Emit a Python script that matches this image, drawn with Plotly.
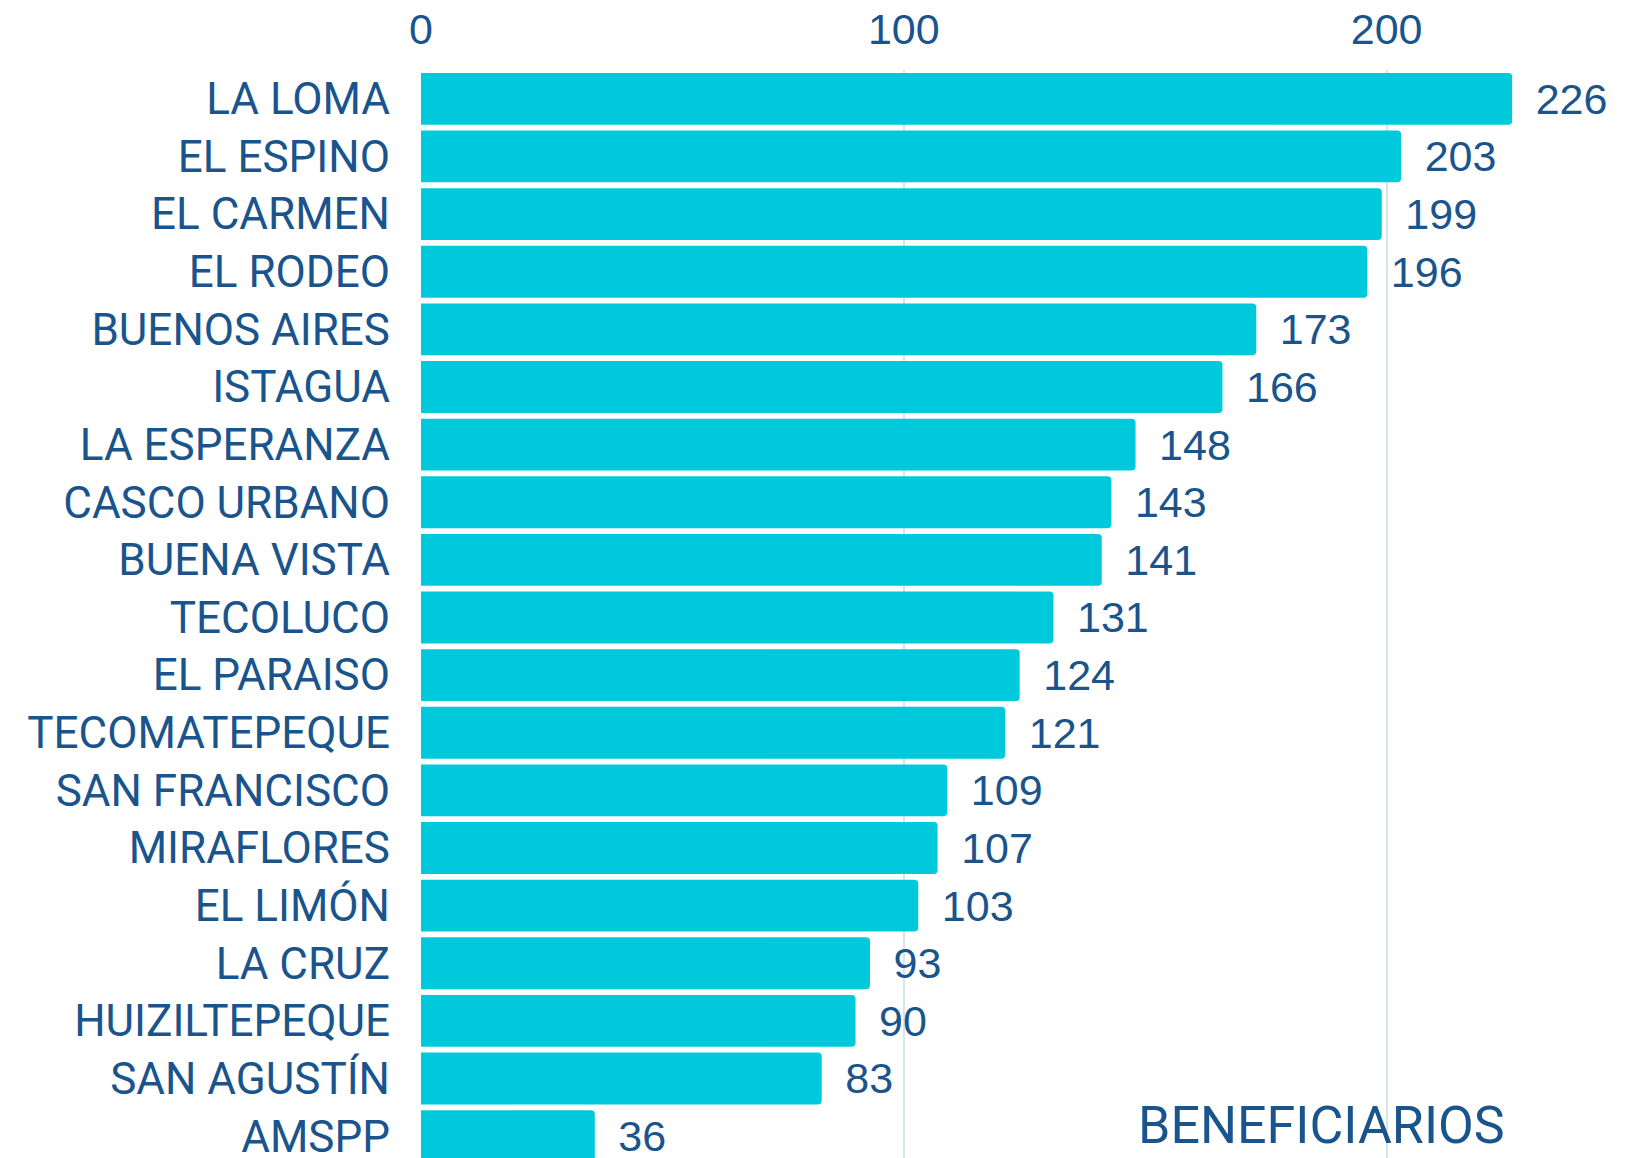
import plotly.graph_objects as go

categories = ["LA LOMA", "EL ESPINO", "EL CARMEN", "EL RODEO", "BUENOS AIRES", "ISTAGUA",
              "LA ESPERANZA", "CASCO URBANO", "BUENA VISTA", "TECOLUCO", "EL PARAISO",
              "TECOMATEPEQUE", "SAN FRANCISCO", "MIRAFLORES", "EL LIMÓN", "LA CRUZ",
              "HUIZILTEPEQUE", "SAN AGUSTÍN", "AMSPP"]
values = [226, 203, 199, 196, 173, 166, 148, 143, 141, 131, 124, 121, 109, 107, 103, 93, 90, 83, 36]
tick_vals = [0, 100, 200]
axis_label = "BENEFICIARIOS"

TEXT = "#1A548C"
BAR = "#00C9DB"

fig = go.Figure(go.Bar(
    x=values, y=categories, orientation="h",
    marker=dict(color=BAR, line=dict(width=0)),
    text=["\u00a0\u2009" + str(v) for v in values],
    textposition="outside",
    textfont=dict(family="Liberation Sans", size=43, color=TEXT),
    cliponaxis=False,
    width=0.9,
))

fig.update_layout(
    width=1621, height=1150,
    margin=dict(l=413, r=1, t=62, b=0),
    paper_bgcolor="white", plot_bgcolor="white",
    showlegend=False,
    barcornerradius=4,
    xaxis=dict(
        side="top", range=[0, 250], tickvals=tick_vals,
        showgrid=True, gridcolor="#D8E3EE", gridwidth=1.5,
        zeroline=False, showline=False, automargin=False,
        tickfont=dict(family="Liberation Sans", size=43, color=TEXT),
        ticklabelstandoff=16,
    ),
    yaxis=dict(
        type="category", categoryorder="array", categoryarray=categories,
        range=[18.38, -0.5], automargin=False,
        showgrid=False, zeroline=False, showline=False,
        tickfont=dict(family="Roboto", size=44, color=TEXT),
        ticklabelstandoff=30,
    ),
    annotations=[dict(
        text=axis_label, x=186.5, xref="x", y=0.0, yref="paper",
        xanchor="center", yanchor="bottom", showarrow=False,
        font=dict(family="Roboto", size=52, color=TEXT),
    )],
)

fig.write_html("out.html")
